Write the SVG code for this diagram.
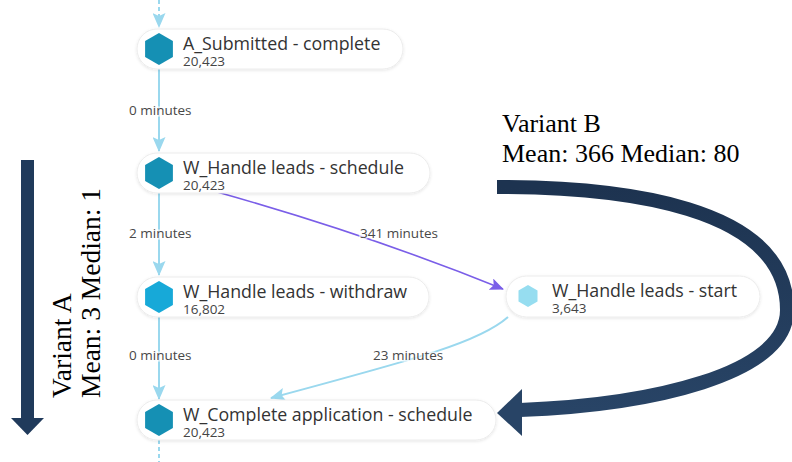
<svg xmlns="http://www.w3.org/2000/svg" width="792" height="462" viewBox="0 0 792 462">
  <style>
    .pill { fill: #ffffff; stroke: #ececec; stroke-width: 1; filter: url(#soft); }
    .hex-dark { fill: #1590b4; }
    .hex-mid { fill: #17a9d8; }
    .hex-light { fill: #96ddf0; }
    .name { font-family: "Open Sans", "Liberation Sans", sans-serif; font-size: 17.8px; fill: #333333; }
    .count { font-family: "Open Sans", "Liberation Sans", sans-serif; font-size: 13.5px; fill: #444444; }
    .elabel { font-family: "Open Sans", "Liberation Sans", sans-serif; font-size: 13.5px; fill: #484848; stroke: #ffffff; stroke-width: 3; stroke-opacity: 0.7; paint-order: stroke; }
    .flow { fill: none; stroke: #9ad8ee; stroke-width: 2; }
    .flow-dash { fill: none; stroke: #9ad8ee; stroke-width: 2; stroke-dasharray: 4 3; }
    .flow-purple { fill: none; stroke: #7a5ee8; stroke-width: 1.6; }
    .note { font-family: "Liberation Serif", "Times New Roman", serif; font-size: 26px; fill: #000000; }
    .note-a { font-size: 27.5px; }
    .big { fill: #203a5b; }
  </style>
  <defs>
    <filter id="soft" x="-10%" y="-30%" width="120%" height="160%">
      <feDropShadow dx="0" dy="1" stdDeviation="1.5" flood-color="#000000" flood-opacity="0.10"/>
    </filter>
    <marker id="tip-blue" viewBox="0 0 15 13" refX="14" refY="6.5" markerWidth="15" markerHeight="13" markerUnits="userSpaceOnUse" orient="auto">
      <path d="M0,0 L15,6.5 L0,13 L3,6.5 Z" fill="#9ad8ee"/>
    </marker>
    <marker id="tip-purple" viewBox="0 0 14 12" refX="13" refY="6" markerWidth="14" markerHeight="12" markerUnits="userSpaceOnUse" orient="auto">
      <path d="M0,0 L14,6 L0,12 L3,6 Z" fill="#7a5ee8"/>
    </marker>
    <linearGradient id="bandB" x1="0" y1="0" x2="0" y2="1">
      <stop offset="0" stop-color="#1d3350"/>
      <stop offset="1" stop-color="#284466"/>
    </linearGradient>
    <path id="hex" d="M0,-16 L13.9,-8 L13.9,8 L0,16 L-13.9,8 L-13.9,-8 Z"/>
  </defs>

  <!-- connectors -->
  <g id="connectors">
    <path class="flow-dash" d="M159,0 L159,27" marker-end="url(#tip-blue)"/>
    <path class="flow" d="M159,69 L159,151" marker-end="url(#tip-blue)"/>
    <path class="flow" d="M159,193 L159,275" marker-end="url(#tip-blue)"/>
    <path class="flow" d="M159,317 L159,399" marker-end="url(#tip-blue)"/>
    <path class="flow-dash" d="M159,440 L159,462"/>
    <path class="flow-purple" d="M217,192 Q370,235 503,289" marker-end="url(#tip-purple)"/>
    <path class="flow" d="M508,317 C480,342 420,358 271,398" marker-end="url(#tip-blue)"/>
    <text class="elabel" x="129" y="115">0 minutes</text>
    <text class="elabel" x="129" y="238">2 minutes</text>
    <text class="elabel" x="360" y="238">341 minutes</text>
    <text class="elabel" x="129" y="360">0 minutes</text>
    <text class="elabel" x="373" y="360">23 minutes</text>
  </g>

  <!-- activity nodes -->
  <g id="node-a-submitted">
    <rect class="pill" x="137" y="29" width="266" height="40" rx="20"/>
    <use href="#hex" class="hex-dark" x="159" y="49"/>
    <text class="name" x="183" y="50">A_Submitted - complete</text>
    <text class="count" x="183" y="65.5">20,423</text>
  </g>
  <g id="node-handle-schedule">
    <rect class="pill" x="137" y="153" width="293" height="40" rx="20"/>
    <use href="#hex" class="hex-dark" x="159" y="173"/>
    <text class="name" x="183" y="174">W_Handle leads - schedule</text>
    <text class="count" x="183" y="189.5">20,423</text>
  </g>
  <g id="node-handle-withdraw">
    <rect class="pill" x="137" y="277" width="292" height="40" rx="20"/>
    <use href="#hex" class="hex-mid" x="159" y="297"/>
    <text class="name" x="183" y="298">W_Handle leads - withdraw</text>
    <text class="count" x="183" y="313.5">16,802</text>
  </g>
  <g id="node-handle-start">
    <rect class="pill" x="506" y="276" width="254" height="41" rx="20.5"/>
    <path class="hex-light" d="M528,285 L537.5,290.5 L537.5,301.5 L528,307 L518.5,301.5 L518.5,290.5 Z"/>
    <text class="name" x="552" y="297">W_Handle leads - start</text>
    <text class="count" x="552" y="312.5">3,643</text>
  </g>
  <g id="node-complete-schedule">
    <rect class="pill" x="137" y="400" width="359" height="40" rx="20"/>
    <use href="#hex" class="hex-dark" x="159" y="420"/>
    <text class="name" x="183" y="421">W_Complete application - schedule</text>
    <text class="count" x="183" y="436.5">20,423</text>
  </g>

  <!-- variant A: straight path down the left -->
  <g id="variant-a">
    <rect class="big" x="21" y="160" width="13" height="260"/>
    <polygon class="big" points="11,418 44,418 27.5,435"/>
    <text class="note note-a" transform="translate(71,398) rotate(-90)">Variant A</text>
    <text class="note note-a" transform="translate(100,398) rotate(-90)">Mean: 3 Median: 1</text>
  </g>

  <!-- variant B: detour loop on the right -->
  <g id="variant-b">
    <path d="M497,187 C620,187 787,205 787,310 C787,375 650,405 520,410" fill="none" stroke="url(#bandB)" stroke-width="14"/>
    <polygon points="497,413 522,389 522,436" fill="#284466"/>
    <text class="note" x="502" y="132">Variant B</text>
    <text class="note" x="502" y="162">Mean: 366 Median: 80</text>
  </g>
</svg>
